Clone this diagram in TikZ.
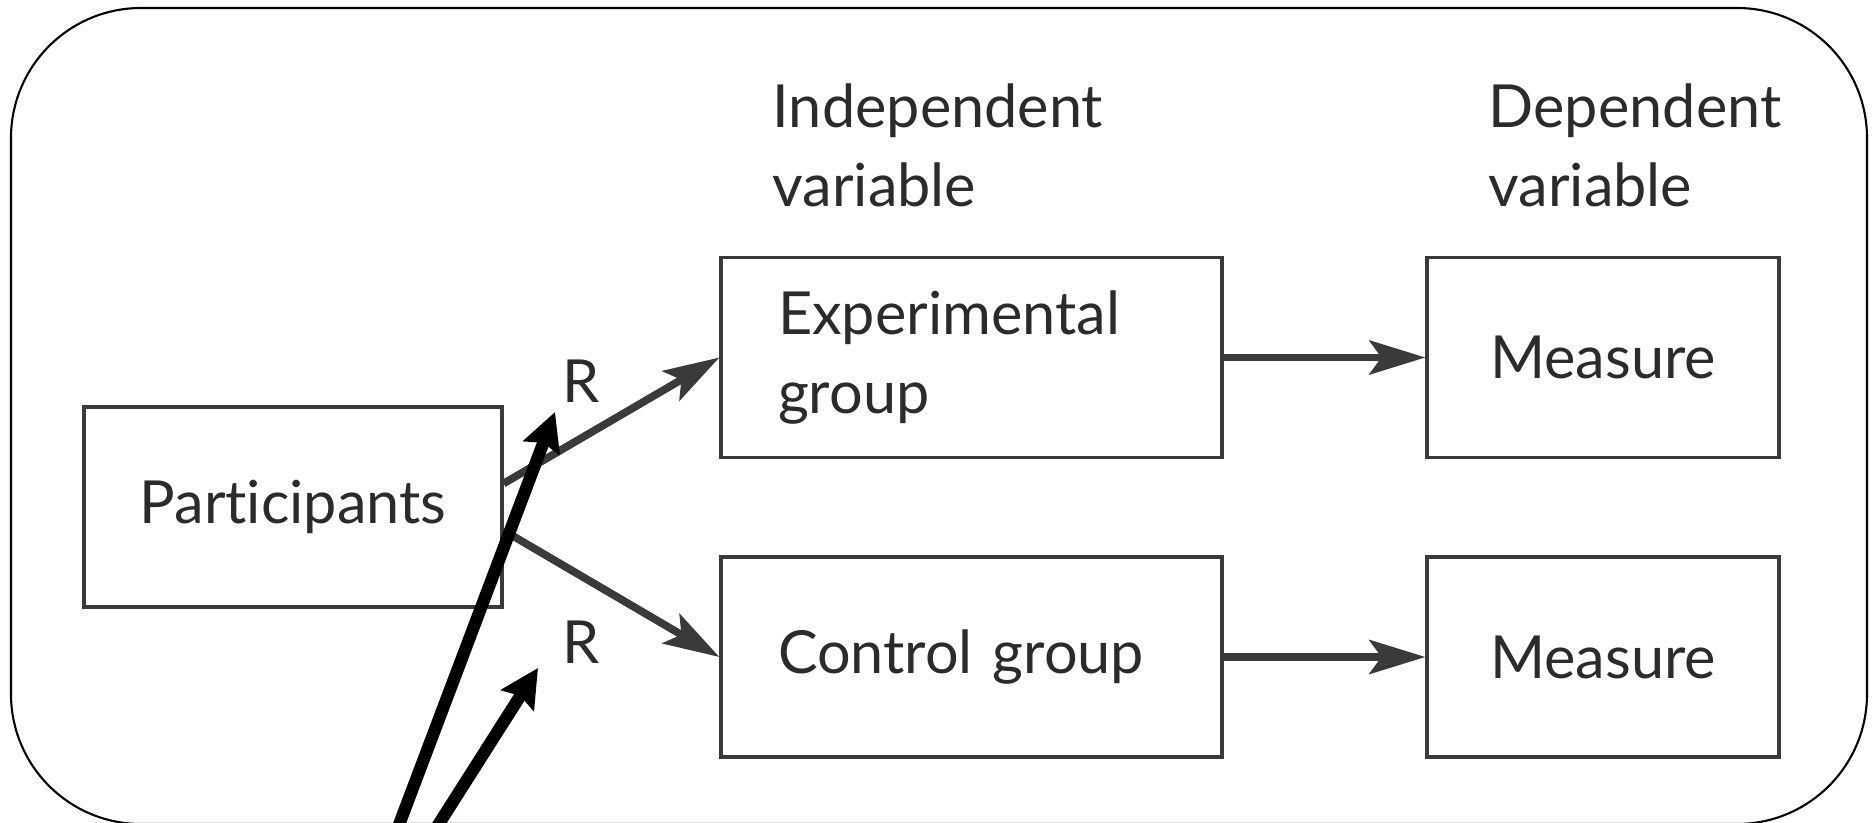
\documentclass[tikz,border=0pt]{standalone}
\usepackage{fontspec}
\setmainfont{Lato}[Ligatures=NoCommon]
\usepackage{tikz}
\usetikzlibrary{arrows.meta}
\usetikzlibrary{calc}
\definecolor{linegray}{HTML}{3A3A3A}
\definecolor{textgray}{HTML}{2B2B2B}

\begin{document}
\begin{tikzpicture}[
  box/.style={draw=linegray, line width=0.9pt, text=textgray, minimum height=2cm, inner sep=0pt},
  heading/.style={text=textgray, align=left, inner sep=0pt},
  grayarrow/.style={draw=linegray, line width=2.2pt, -{Stealth[length=5.6mm, width=3.4mm, inset=1.2mm]}},
  blackarrow/.style={draw=black, line width=3.5pt, -{Stealth[length=3.8mm, width=3.8mm, inset=0.5mm]}},
  font=\fontsize{16.9}{22.5}\selectfont
]
%\draw[help lines] (0,0) grid (19,9);
\clip (0,0) rectangle (18.73,8.22);
\draw[line width=0.6pt, rounded corners=1.3cm] (0.11,-0.02) rectangle (18.67,8.14);

\node[box, minimum width=4.18cm] (part) at (2.93,3.15) {Participants};
\node[box, minimum width=5.01cm, text width=3.87cm, align=left] (exp) at (9.715,4.645) {Experimental\\group};
\node[box, minimum width=5.01cm, text width=3.87cm, align=left] (ctrl) at (9.715,1.65) {Control group};
\node[box, minimum width=3.52cm] (meas1) at (16.03,4.645) {Measure};
\node[box, minimum width=3.52cm] (meas2) at (16.03,1.65) {Measure};

\node[heading, anchor=north west] (indep) at (7.72,7.39) {Independent\\variable};
\node[heading, anchor=north west] (dep) at (14.88,7.39) {Dependent\\variable};
\node[heading] (r1) at (5.81,4.41) {R};
\node[heading] (r2) at (5.81,1.80) {R};

\draw[grayarrow] ($(part.east)+(0,0.235)$) -- (exp.west);
\draw[grayarrow] ($(part.east)+(0,-0.235)$) -- (ctrl.west);
\draw[grayarrow] (exp.east) -- (meas1.west);
\draw[grayarrow] (ctrl.east) -- (meas2.west);

\coordinate (tail1) at (3.887,-0.30);
\coordinate (tip1) at (5.55,4.10);
\coordinate (tail2) at (4.21,-0.30);
\coordinate (tip2) at (5.38,1.54);
\draw[blackarrow] (tail1) -- (tip1);
\draw[blackarrow] (tail2) -- (tip2);
\end{tikzpicture}
\end{document}
